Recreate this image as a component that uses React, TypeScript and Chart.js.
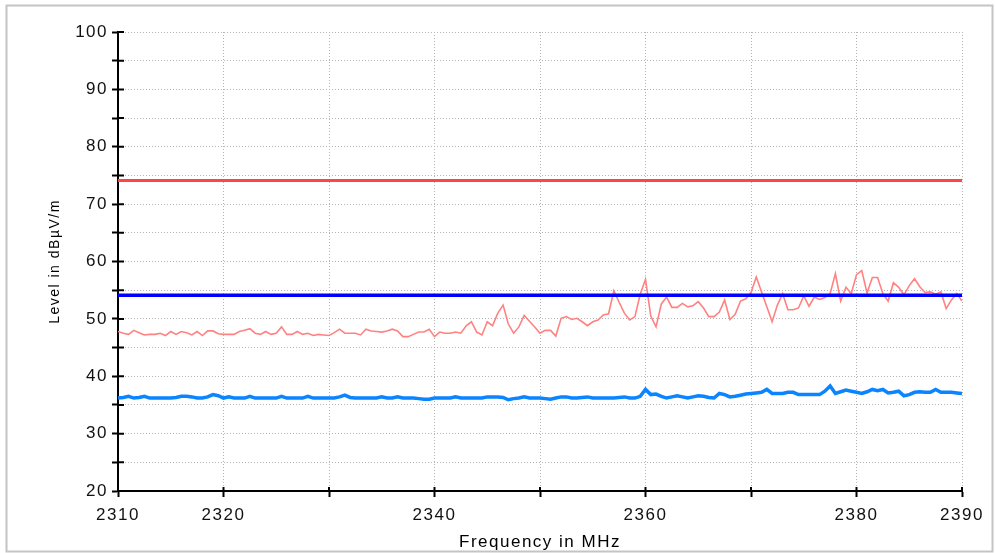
import { useEffect, useRef } from 'react';
import { Chart, registerables } from 'chart.js';

Chart.register(...registerables);

const FREQ_START = 2310;
const FREQ_STEP = 0.5;
const X_MIN = 2310;
const X_MAX = 2390;
const Y_MIN = 20;
const Y_MAX = 100;
const xLabelValues = [2310, 2320, 2340, 2360, 2380, 2390];
const yLabelValues = [20, 30, 40, 50, 60, 70, 80, 90, 100];

const peakTrace = [
  47.8, 47.5, 47.3, 48.0, 47.6, 47.2, 47.3, 47.3, 47.5, 47.1, 47.8,
  47.3, 47.8, 47.6, 47.2, 47.8, 47.1, 47.9, 47.9, 47.4, 47.3,
  47.3, 47.3, 47.8, 48.0, 48.3, 47.5, 47.3, 47.8, 47.3, 47.5,
  48.6, 47.3, 47.3, 47.8, 47.3, 47.5, 47.1, 47.3, 47.2, 47.1,
  47.6, 48.2, 47.5, 47.5, 47.5, 47.2, 48.2, 47.9, 47.8, 47.7,
  47.9, 48.2, 47.9, 46.9, 46.9, 47.3, 47.7, 47.7, 48.2, 46.9,
  47.7, 47.5, 47.5, 47.7, 47.5, 48.8, 49.5, 47.7, 47.2, 49.5,
  48.8, 51.0, 52.4, 49.1, 47.5, 48.6, 50.6, 49.6, 48.6, 47.5,
  48.0, 48.0, 47.0, 50.1, 50.4, 49.9, 50.1, 49.5, 48.8, 49.5,
  49.8, 50.7, 50.9, 54.9, 52.9, 51.0, 49.8, 50.4, 54.3, 56.9,
  50.5, 48.6, 52.6, 53.8, 52.0, 52.0, 52.7, 52.1, 52.3, 53.0,
  51.9, 50.4, 50.4, 51.2, 53.3, 49.9, 50.8, 53.1, 53.5, 54.6,
  57.3, 54.7, 52.1, 49.5, 52.4, 54.4, 51.6, 51.6, 51.9, 54.0,
  52.2, 53.8, 53.4, 53.7, 54.4, 57.9, 53.1, 55.5, 54.4, 57.7,
  58.4, 54.5, 57.2, 57.2, 54.4, 53.1, 56.3, 55.5, 54.2, 55.8,
  57.0, 55.6, 54.6, 54.7, 54.3, 54.7, 51.8, 53.3, 54.4, 53.1,
];

const avgTrace = [
  36.2, 36.3, 36.5, 36.2, 36.3, 36.5, 36.2, 36.2, 36.2, 36.2, 36.2,
  36.3, 36.5, 36.5, 36.4, 36.2, 36.2, 36.4, 36.8, 36.6, 36.2,
  36.4, 36.2, 36.2, 36.2, 36.5, 36.2, 36.2, 36.2, 36.2, 36.2,
  36.5, 36.2, 36.2, 36.2, 36.2, 36.5, 36.2, 36.2, 36.2, 36.2,
  36.2, 36.4, 36.7, 36.3, 36.2, 36.2, 36.2, 36.2, 36.2, 36.4,
  36.2, 36.2, 36.4, 36.2, 36.2, 36.2, 36.1, 36.0, 36.0, 36.2,
  36.2, 36.2, 36.2, 36.4, 36.2, 36.2, 36.2, 36.2, 36.2, 36.4,
  36.4, 36.4, 36.3, 35.9, 36.1, 36.2, 36.4, 36.2, 36.2, 36.2,
  36.1, 36.0, 36.2, 36.4, 36.4, 36.2, 36.2, 36.3, 36.4, 36.2,
  36.2, 36.2, 36.2, 36.2, 36.3, 36.4, 36.2, 36.2, 36.5, 37.7,
  36.8, 36.9, 36.5, 36.2, 36.4, 36.6, 36.4, 36.2, 36.4, 36.6,
  36.5, 36.3, 36.2, 37.0, 36.8, 36.4, 36.5, 36.7, 36.9, 37.0,
  37.1, 37.2, 37.7, 37.0, 37.0, 37.0, 37.2, 37.2, 36.8, 36.8,
  36.8, 36.8, 36.8, 37.4, 38.3, 37.0, 37.3, 37.6, 37.4, 37.2,
  37.0, 37.3, 37.7, 37.5, 37.7, 37.1, 37.2, 37.4, 36.6, 36.8,
  37.2, 37.3, 37.2, 37.2, 37.7, 37.2, 37.2, 37.2, 37.1, 37.0,
];

const peakLimit = 74.1;
const avgLimit = 54.1;

const yTitle = 'Level in dBµV/m';
const xTitle = 'Frequency in MHz';

const FONT = "'Liberation Sans', Arial, sans-serif";

const toPoints = (vals: number[]) =>
  vals.map((v, i) => ({ x: FREQ_START + i * FREQ_STEP, y: v }));

const framePlugin = {
  id: 'frame',
  beforeUpdate(chart: any) {
    chart.ctx.letterSpacing = '1.5px';
  },
  beforeDraw(chart: any) {
    const c = chart.ctx;
    c.save();
    c.fillStyle = '#ffffff';
    c.fillRect(0, 0, chart.width, chart.height);
    c.restore();
    c.letterSpacing = '1.5px';
  },
  afterDraw(chart: any) {
    const { ctx, chartArea } = chart;
    const xs = chart.scales.x;
    const ys = chart.scales.y;
    ctx.save();
    ctx.strokeStyle = '#000';
    ctx.lineWidth = 2;
    ctx.beginPath();
    ys.ticks.forEach((t: any) => {
      const py = ys.getPixelForValue(t.value);
      ctx.moveTo(chartArea.left, py);
      ctx.lineTo(chartArea.left + 6, py);
    });
    xs.ticks.forEach((t: any) => {
      const px = xs.getPixelForValue(t.value);
      ctx.moveTo(px, chartArea.bottom);
      ctx.lineTo(px, chartArea.bottom - 4);
    });
    ctx.stroke();
    ctx.fillStyle = '#ffffff';
    ctx.fillRect(0, 550, chart.width, chart.height - 550);
    ctx.strokeStyle = '#c4c4c4';
    ctx.lineWidth = 2;
    ctx.strokeRect(6.5, 5.5, 986, 546);
    ctx.restore();
  },
};

export default function App() {
  const ref = useRef<HTMLCanvasElement | null>(null);

  useEffect(() => {
    if (!ref.current) return;
    const chart = new Chart(ref.current, {
      type: 'line',
      data: {
        datasets: [
          {
            label: 'AV limit',
            data: [
              { x: X_MIN, y: avgLimit },
              { x: X_MAX, y: avgLimit },
            ],
            borderColor: '#0000ff',
            borderWidth: 3.5,
            pointRadius: 0,
          },
          {
            label: 'PK limit',
            data: [
              { x: X_MIN, y: peakLimit },
              { x: X_MAX, y: peakLimit },
            ],
            borderColor: '#ff4646',
            borderWidth: 3,
            pointRadius: 0,
          },
          {
            label: 'AV',
            data: toPoints(avgTrace),
            borderColor: '#0a84ff',
            borderWidth: 3.5,
            pointRadius: 0,
            tension: 0,
          },
          {
            label: 'PK',
            data: toPoints(peakTrace),
            borderColor: '#ff8282',
            borderWidth: 1.6,
            pointRadius: 0,
            tension: 0,
          },
        ],
      },
      options: {
        animation: false,
        responsive: false,
        devicePixelRatio: 1,
        layout: { padding: { left: 0, right: 33, top: 32, bottom: 0 } },
        plugins: {
          legend: { display: false },
          tooltip: { enabled: false },
        },
        scales: {
          x: {
            type: 'linear',
            min: X_MIN,
            max: X_MAX,
            afterFit: (s: any) => {
              s.height = 62;
            },
            ticks: {
              stepSize: 10,
              autoSkip: false,
              maxRotation: 0,
              padding: 8,
              color: '#111',
              font: { family: FONT, size: 17 },
              callback: (v: any) =>
                xLabelValues.includes(Number(v)) ? String(v) : '',
            },
            grid: {
              color: '#b4b4b4',
              lineWidth: 1,
              tickLength: 6,
              tickColor: '#000',
              tickWidth: 2,
            },
            border: { color: '#000', width: 2, dash: [1, 2] },
            title: {
              display: true,
              text: xTitle,
              color: '#000',
              font: { family: FONT, size: 17 },
              padding: { top: 0, bottom: 0 },
            },
          },
          y: {
            min: Y_MIN,
            max: Y_MAX,
            afterFit: (s: any) => {
              s.width = 118;
            },
            ticks: {
              stepSize: 5,
              autoSkip: false,
              padding: 4,
              color: '#111',
              font: { family: FONT, size: 17 },
              callback: (v: any) =>
                yLabelValues.includes(Number(v)) ? String(v) : '',
            },
            grid: {
              color: '#b4b4b4',
              lineWidth: 1,
              tickLength: 6,
              tickColor: '#000',
              tickWidth: 2,
            },
            border: { color: '#000', width: 2, dash: [1, 2] },
            title: {
              display: true,
              text: yTitle,
              color: '#000',
              font: { family: FONT, size: 14 },
              padding: { top: 47, bottom: 0 },
            },
          },
        },
      },
      plugins: [framePlugin],
    } as any);
    return () => chart.destroy();
  }, []);

  return (
    <div
      style={{
        position: 'absolute',
        left: 0,
        top: 0,
        width: 995,
        height: 553,
        background: '#fff',
      }}
    >
      <canvas
        ref={ref}
        width={995}
        height={553}
        style={{ display: 'block', width: 995, height: 553 }}
      />
    </div>
  );
}
